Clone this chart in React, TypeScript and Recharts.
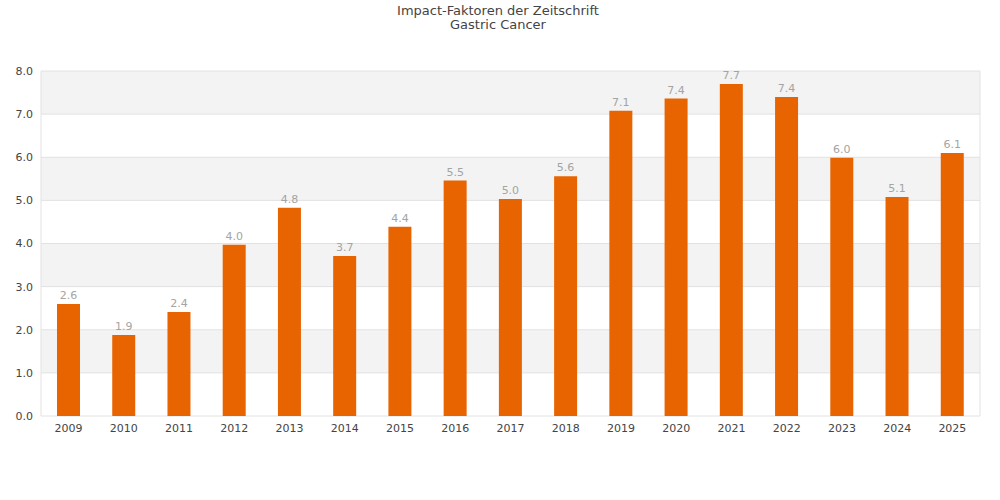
import React from "react";
import {
  BarChart,
  Bar,
  XAxis,
  YAxis,
  CartesianGrid,
  LabelList,
} from "recharts";

const years = [
  "2009", "2010", "2011", "2012", "2013", "2014", "2015", "2016", "2017",
  "2018", "2019", "2020", "2021", "2022", "2023", "2024", "2025",
];
const impactFactors = [
  2.6, 1.88, 2.41, 3.97, 4.83, 3.71, 4.39, 5.46, 5.03, 5.56, 7.08, 7.36, 7.7,
  7.4, 5.99, 5.08, 6.1,
];
const yTicks = [0, 1, 2, 3, 4, 5, 6, 7, 8];

const FONT = "'DejaVu Sans', sans-serif";

export default function App() {
  const data = years.map((year, i) => ({ year, value: impactFactors[i] }));

  return (
    <div
      style={{
        position: "absolute",
        left: 0,
        top: 0,
        width: 1000,
        height: 500,
        background: "#fff",
        fontFamily: FONT,
      }}
    >
      <div
        style={{
          position: "absolute",
          top: 4,
          left: 0,
          width: 996,
          textAlign: "center",
          fontSize: 13,
          lineHeight: "14px",
          color: "#444",
        }}
      >
        <div>Impact-Faktoren der Zeitschrift</div>
        <div>Gastric Cancer</div>
      </div>
      <BarChart
        width={1000}
        height={500}
        data={data}
        margin={{ top: 71, right: 20, left: 1, bottom: 54 }}
      >
        <CartesianGrid
          stroke="#e2e2e2"
          horizontalFill={["#f3f3f3", "#ffffff"]}
          fillOpacity={1}
          verticalCoordinatesGenerator={({ offset }: any) => [
            offset.left,
            offset.left + offset.width,
          ]}
        />
        <XAxis
          dataKey="year"
          tickLine={false}
          axisLine={false}
          height={30}
          tick={{ fontSize: 11, fill: "#444", fontFamily: FONT }}
        />
        <YAxis
          width={40}
          domain={[0, 8]}
          ticks={yTicks}
          interval={0}
          tickLine={false}
          axisLine={false}
          tickFormatter={(v: number) => v.toFixed(1)}
          tick={{ fontSize: 11, fill: "#444", fontFamily: FONT }}
        />
        <Bar dataKey="value" fill="#e86400" barSize={23} isAnimationActive={false}>
          <LabelList
            dataKey="value"
            position="top"
            offset={5}
            formatter={(v: any) => Number(v).toFixed(1)}
            style={{ fontSize: 11, fill: "#a4a4a4", fontFamily: FONT }}
          />
        </Bar>
      </BarChart>
    </div>
  );
}
